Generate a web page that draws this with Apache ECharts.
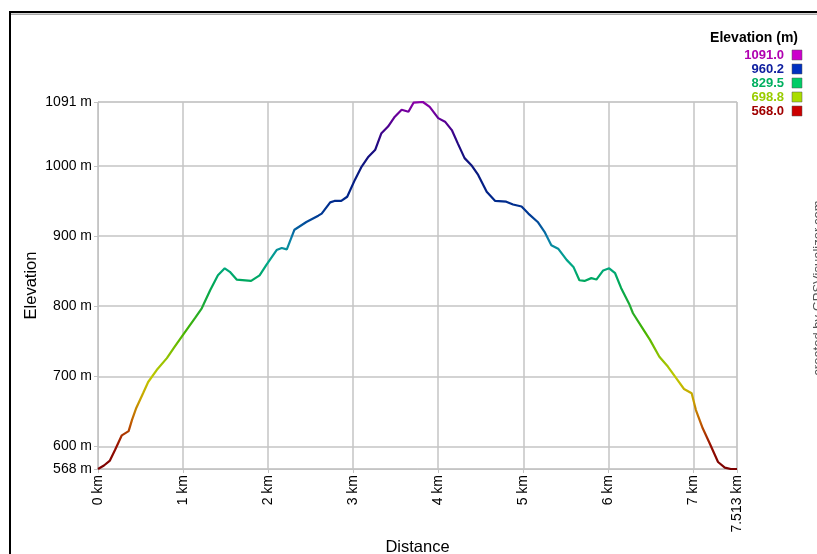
<!DOCTYPE html>
<html><head><meta charset="utf-8">
<script src="https://cdn.jsdelivr.net/npm/echarts@6/dist/echarts.min.js"></script>
<style>html,body{margin:0;padding:0;background:#fff;}#c{width:817px;height:554px;}</style>
</head><body><div id="c"></div>
<script>
const distanceKm = [0.00,0.07,0.14,0.20,0.28,0.36,0.40,0.45,0.53,0.59,0.69,0.81,0.90,1.01,1.14,1.22,1.32,1.41,1.49,1.55,1.63,1.80,1.90,1.98,2.10,2.16,2.22,2.31,2.45,2.59,2.63,2.73,2.78,2.86,2.93,3.02,3.10,3.18,3.26,3.33,3.41,3.49,3.57,3.65,3.71,3.82,3.90,4.00,4.08,4.16,4.23,4.31,4.39,4.47,4.57,4.67,4.80,4.88,4.98,5.06,5.17,5.25,5.33,5.41,5.51,5.59,5.66,5.72,5.80,5.86,5.94,6.01,6.08,6.15,6.25,6.29,6.39,6.49,6.60,6.70,6.80,6.89,6.98,7.03,7.11,7.19,7.29,7.37,7.44,7.513];
const elevationM = [568,573,580,595,616,622,638,655,676,692,709,726,742,761,783,797,823,844,854,849,838,836,844,859,880,883,881,909,920,929,932,948,950,950,956,980,999,1013,1023,1046,1056,1070,1080,1077,1090,1091,1084,1068,1063,1051,1032,1011,1001,987,963,950,949,945,942,932,920,906,887,882,866,856,837,836,840,838,851,854,847,826,802,790,771,752,728,714,697,682,676,652,626,605,578,570,568,568];
const xTicks = [0,1,2,3,4,5,6,7,7.513];
const yTicks = [568,600,700,800,900,1000,1091];
const legendValues = ['1091.0','960.2','829.5','698.8','568.0'];
const legendText = ['#b000b0','#1020a0','#00b060','#99cc00','#a00000'];
const legendBox = ['#cc00cc','#0030c0','#00cc66','#aadd00','#cc0000'];
const gradientStops = ['#7a0000','#960e00','#c05a00','#c8a000','#c0c800','#88c000','#44b400','#20aa30','#00a855','#00a888','#0a80a8','#003c96','#002288','#0a1a80','#1a0a80','#500090','#8a00a8'];

const chart = echarts.init(document.getElementById('c'), null, {renderer:'canvas'});
const font = 'Liberation Sans, Arial, sans-serif';
const gridCol = '#c4c4c4';

const graphics = [
  {type:'rect', shape:{x:9, y:11, width:820, height:2}, style:{fill:'#000'}, silent:true},
  {type:'rect', shape:{x:11, y:13.5, width:820, height:1.5}, style:{fill:'#a8a8a8'}, silent:true},
  {type:'rect', shape:{x:9, y:11, width:2, height:560}, style:{fill:'#000'}, silent:true},
  {type:'text', x:798, y:38, style:{text:'Elevation (m)', font:'bold 14px '+font, fill:'#000', textAlign:'right', textVerticalAlign:'middle'}},
  {type:'text', x:818, y:288, rotation:Math.PI/2, style:{text:'created by GPSVisualizer.com', font:'13px '+font, fill:'#555', textAlign:'center', textVerticalAlign:'middle'}}
];
legendValues.forEach((v,i)=>{
  const y = 55 + i*14;
  graphics.push({type:'text', x:784, y:y, style:{text:v, font:'bold 13px '+font, fill:legendText[i], textAlign:'right', textVerticalAlign:'middle'}});
  graphics.push({type:'rect', shape:{x:792, y:y-5, width:10, height:10}, style:{fill:legendBox[i], stroke:'#555', lineWidth:0.5}});
});

chart.setOption({
  backgroundColor:'#fff',
  animation:false,
  grid:{left:98, right:80, top:102, bottom:85, show:true, borderColor:gridCol, borderWidth:1, containLabel:false, outerBoundsMode:'none'},
  visualMap:{show:false, type:'continuous', dimension:1, min:568, max:1091, inRange:{color:gradientStops}, seriesIndex:0},
  xAxis:{type:'value', min:0, max:7.513,
    name:'Distance', nameLocation:'middle', nameGap:70, nameMoveOverlap:false, nameTextStyle:{fontFamily:font, fontSize:16.5, color:'#000'},
    axisLine:{show:true, lineStyle:{color:gridCol}},
    axisTick:{show:true, length:4, lineStyle:{color:gridCol}, customValues:xTicks},
    axisLabel:{customValues:xTicks, rotate:90, fontFamily:font, fontSize:14, color:'#000', margin:6,
      formatter:v=>(v===7.513?'7.513':String(v))+' km'},
    splitLine:{show:true, lineStyle:{color:gridCol, width:1.5}}
  },
  yAxis:{type:'value', min:568, max:1091,
    name:'Elevation', nameLocation:'middle', nameGap:58, nameMoveOverlap:false, nameRotate:90, nameTextStyle:{fontFamily:font, fontSize:16.5, color:'#000'},
    axisLine:{show:true, lineStyle:{color:gridCol}},
    axisTick:{show:true, length:4, lineStyle:{color:gridCol}, customValues:yTicks},
    axisLabel:{customValues:yTicks, fontFamily:font, fontSize:14, color:'#000', margin:6, formatter:v=>v+' m'},
    splitLine:{show:true, lineStyle:{color:gridCol, width:1.5}}
  },
  graphic:graphics,
  series:[{type:'line', data:distanceKm.map((d,i)=>[d,elevationM[i]]), showSymbol:false, symbol:'none', smooth:false,
    lineStyle:{width:2.2}}]
});
</script></body></html>
